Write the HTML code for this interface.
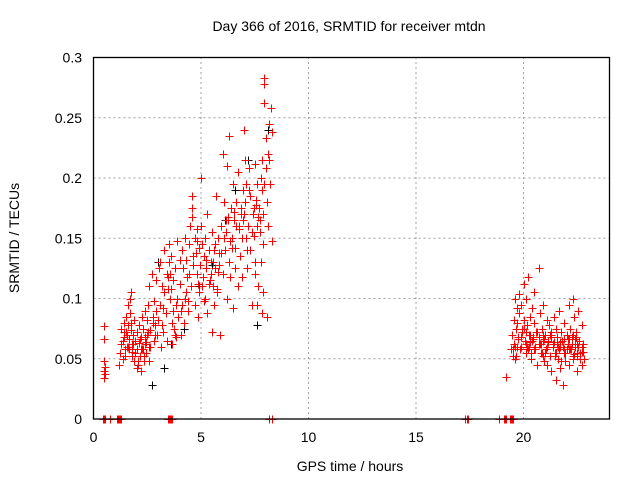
<!DOCTYPE html>
<html><head><meta charset="utf-8"><style>
body{margin:0;background:#fff;}
svg{display:block;font-family:"Liberation Sans",sans-serif;}
</style></head><body>
<svg id="chart" width="640" height="480" viewBox="0 0 640 480">
<text x="349" y="31" font-size="14" text-anchor="middle">Day 366 of 2016, SRMTID for receiver mtdn</text>
<text x="350" y="471" font-size="14" text-anchor="middle">GPS time / hours</text>
<text transform="translate(19,238) rotate(-90)" font-size="14" text-anchor="middle">SRMTID / TECUs</text>
<g id="grid"></g><g id="ticks"></g><g id="marks"></g>
<rect x="93.5" y="57.5" width="516" height="361.5" fill="none" stroke="#000" stroke-width="1.3"/>
</svg>
<script>
const xTicks=[0,5,10,15,20];
const yTicks=[0,0.05,0.1,0.15,0.2,0.25,0.3];
const yTickLabels=["0","0.05","0.1","0.15","0.2","0.25","0.3"];
const redHours=[0.5,0.5,0.5,0.55,0.5,0.55,0.5,
1.2,1.25,1.3,1.3,1.35,1.4,1.4,1.45,1.5,1.5,1.55,1.6,1.6,1.65,1.7,1.7,1.75,1.75,1.8,1.8,1.85,1.9,1.9,1.95,2.0,2.0,2.05,2.1,2.1,2.15,2.2,2.2,2.25,2.3,2.3,2.35,2.4,2.4,2.45,2.5,2.5,2.55,2.6,2.6,2.65,2.7,2.75,2.8,2.8,2.85,2.9,2.9,2.95,
3.0,3.05,3.1,3.1,3.15,3.2,3.25,3.3,3.3,3.35,3.4,3.45,3.5,3.5,3.55,3.55,3.6,3.6,3.65,3.7,3.7,3.75,3.8,3.85,3.9,3.9,3.95,
4.0,4.05,4.1,4.1,4.15,4.2,4.25,4.3,4.3,4.35,4.4,4.45,4.5,4.55,4.6,4.6,4.6,4.65,4.7,4.7,4.75,4.8,4.8,4.85,4.9,4.9,4.95,
5.0,5.0,5.05,5.1,5.15,5.2,5.2,5.25,5.3,5.3,5.35,5.4,5.45,5.5,5.5,5.55,5.6,5.6,5.65,5.7,5.75,5.8,5.8,5.85,5.9,5.95,
6.0,6.0,6.05,6.1,6.15,6.2,6.2,6.25,6.3,6.3,6.35,6.4,6.45,6.5,6.5,6.55,6.6,6.6,6.65,6.7,6.7,6.75,6.8,6.85,6.9,6.9,6.95,
7.0,7.0,7.05,7.1,7.1,7.15,7.2,7.25,7.3,7.3,7.35,7.4,7.45,7.5,7.5,7.55,7.6,7.6,7.65,7.7,7.75,7.8,7.8,7.85,7.9,7.9,7.95,7.95,
8.0,8.0,8.05,8.1,8.1,8.15,8.2,8.25,8.3,8.3,7.5,7.6,7.85,7.9,7.95,8.05,
19.2,19.4,19.45,19.5,19.55,19.6,19.6,19.65,19.7,19.75,19.8,19.8,19.85,19.9,19.95,20.0,20.0,20.05,20.1,20.1,20.15,20.2,20.25,20.3,20.3,20.35,20.4,20.45,20.5,20.5,20.55,20.6,20.65,20.7,20.7,20.75,20.8,20.85,20.9,20.9,20.95,
21.0,21.05,21.1,21.1,21.15,21.2,21.25,21.3,21.3,21.35,21.4,21.45,21.5,21.5,21.55,21.6,21.65,21.7,21.7,21.75,21.8,21.85,21.9,21.9,21.95,
22.0,22.05,22.1,22.1,22.15,22.2,22.25,22.3,22.3,22.35,22.4,22.45,22.5,22.5,22.55,22.6,22.65,22.7,22.7,22.75,22.8,
19.7,19.9,20.0,20.2,20.4,20.6,20.8,21.0,21.3,21.6,21.9,22.1,22.3,22.5,22.7,19.6,20.1,20.9,21.4,22.0,22.4,
1.35,1.45,1.55,1.65,1.75,1.85,1.95,2.05,2.15,2.25,2.35,2.45,2.55,2.65,2.75,2.85,1.4,1.6,1.8,2.0,2.2,2.4,2.6,
3.25,3.45,3.65,3.85,4.05,4.25,4.45,4.65,4.85,3.2,3.4,3.8,4.0,4.4,4.8,
5.05,5.25,5.45,5.65,5.85,6.05,6.25,6.45,6.65,6.85,5.15,5.35,5.55,5.75,5.95,6.15,6.35,6.55,6.75,6.95,
7.05,7.25,7.45,7.65,7.85,7.15,7.35,7.55,7.75,7.95,8.15,
19.55,19.65,19.75,19.85,19.95,20.05,20.15,20.25,20.35,20.45,20.55,20.65,20.75,20.85,20.95,21.05,21.15,21.25,21.35,21.45,21.55,21.65,21.75,21.85,21.95,22.05,22.15,22.25,22.35,22.45,22.55,22.65,22.75,
19.5,19.7,19.9,20.1,20.3,20.5,20.7,20.9,21.1,21.3,21.5,21.7,21.9,22.1,22.3,22.5,22.7];
const redValues=[0.077,0.066,0.048,0.043,0.040,0.037,0.034,
0.045,0.055,0.062,0.075,0.050,0.068,0.080,0.058,0.072,0.085,0.060,0.078,0.095,0.066,0.100,0.088,0.074,0.105,0.062,0.056,0.070,0.048,0.082,0.065,0.058,0.072,0.045,0.063,0.078,0.052,0.040,0.068,0.085,0.058,0.075,0.048,0.062,0.090,0.055,0.070,0.082,0.095,0.060,0.110,0.074,0.120,0.085,0.065,0.098,0.078,0.090,0.115,0.070,
0.082,0.125,0.095,0.130,0.060,0.110,0.072,0.105,0.140,0.088,0.065,0.118,0.145,0.130,0.100,0.120,0.135,0.108,0.062,0.090,0.115,0.075,0.125,0.068,0.100,0.148,0.085,
0.112,0.070,0.140,0.095,0.125,0.080,0.150,0.105,0.132,0.118,0.090,0.145,0.160,0.110,0.175,0.185,0.168,0.128,0.150,0.095,0.138,0.120,0.158,0.085,0.142,0.105,0.128,
0.200,0.160,0.145,0.118,0.135,0.100,0.150,0.125,0.170,0.088,0.140,0.115,0.130,0.072,0.155,0.110,0.095,0.140,0.125,0.185,0.105,0.150,0.122,0.138,0.070,0.160,
0.220,0.120,0.180,0.140,0.155,0.100,0.210,0.165,0.130,0.235,0.118,0.175,0.150,0.092,0.195,0.165,0.142,0.125,0.180,0.110,0.205,0.160,0.135,0.170,0.150,0.118,0.190,
0.240,0.170,0.215,0.150,0.195,0.125,0.160,0.208,0.140,0.185,0.095,0.170,0.152,0.212,0.130,0.178,0.195,0.160,0.110,0.175,0.155,0.200,0.130,0.215,0.170,0.145,0.262,0.283,
0.208,0.233,0.180,0.220,0.160,0.245,0.195,0.258,0.238,0.148,0.120,0.095,0.088,0.105,0.278,0.085,
0.035,0.058,0.070,0.052,0.082,0.060,0.100,0.075,0.092,0.066,0.088,0.104,0.058,0.095,0.075,0.082,0.112,0.065,0.100,0.055,0.078,0.118,0.060,0.085,0.070,0.050,0.092,0.066,0.080,0.105,0.058,0.072,0.045,0.125,0.062,0.088,0.055,0.075,0.065,0.095,0.048,
0.070,0.058,0.082,0.045,0.065,0.078,0.052,0.070,0.040,0.062,0.085,0.055,0.075,0.032,0.068,0.050,0.090,0.060,0.042,0.072,0.065,0.028,0.055,0.080,0.048,
0.070,0.062,0.095,0.045,0.075,0.058,0.068,0.100,0.050,0.085,0.060,0.072,0.052,0.040,0.090,0.065,0.055,0.078,0.045,0.062,0.050,
0.060,0.068,0.075,0.058,0.065,0.072,0.062,0.055,0.068,0.060,0.066,0.058,0.070,0.055,0.060,0.050,0.062,0.070,0.064,0.058,0.066,
0.065,0.052,0.070,0.058,0.080,0.062,0.055,0.048,0.066,0.058,0.052,0.064,0.072,0.060,0.080,0.070,0.072,0.060,0.052,0.042,0.058,0.068,0.048,
0.092,0.108,0.080,0.095,0.090,0.100,0.120,0.135,0.112,0.078,0.120,0.070,0.132,0.098,0.148,
0.110,0.132,0.120,0.145,0.128,0.150,0.168,0.142,0.160,0.175,0.098,0.112,0.130,0.108,0.138,0.165,0.148,0.172,0.158,0.165,
0.180,0.190,0.175,0.168,0.190,0.140,0.155,0.182,0.165,0.195,0.215,
0.062,0.052,0.068,0.058,0.072,0.065,0.060,0.070,0.055,0.068,0.060,0.072,0.062,0.055,0.066,0.058,0.064,0.070,0.060,0.052,0.062,0.058,0.048,0.060,0.055,0.066,0.058,0.062,0.054,0.068,0.060,0.050,0.056,
0.058,0.080,0.060,0.072,0.064,0.058,0.068,0.052,0.060,0.072,0.055,0.064,0.058,0.066,0.052,0.062,0.056];
const blackHours=[2.7,3.3,3.6,4.2,4.9,5.5,6.1,6.6,7.2,7.6,7.8,8.1,3.0];
const blackValues=[0.028,0.042,0.062,0.075,0.110,0.128,0.165,0.190,0.215,0.078,0.130,0.240,0.130];
const zeroHours=[0.45,0.5,0.55,0.75,1.1,1.15,1.2,1.25,1.3,3.45,3.5,3.55,3.6,3.65,8.15,8.3,17.3,17.35,17.4,18.85,19.1,19.15,19.2,19.35,19.4,19.45,19.5];

const X0=93.5,XW=516,Y0=419,YH=361.5;
const sx=h=>X0+h/24*XW, sy=v=>Y0-v/0.3*YH;
const NS="http://www.w3.org/2000/svg";
const grid=document.getElementById('grid'),ticks=document.getElementById('ticks'),marks=document.getElementById('marks');
function mk(tag,attrs,parent){const e=document.createElementNS(NS,tag);for(const k in attrs)e.setAttribute(k,attrs[k]);parent.appendChild(e);return e;}
xTicks.forEach(t=>{const x=sx(t);
 if(t>0){const g=mk('line',{x1:x,x2:x,y1:Y0,y2:57.5,stroke:'#a0a0a0','stroke-dasharray':'2,3'},grid);
 
 }
 const tl=mk('text',{x:x,y:442,'font-size':14,'text-anchor':'middle'},ticks);tl.textContent=t;
 
 
});
yTicks.forEach((t,i)=>{const y=sy(t);
 if(t>0&&t<0.3){const g=mk('line',{x1:X0,x2:X0+XW,y1:y,y2:y,stroke:'#a0a0a0','stroke-dasharray':'2,3'},grid);
 
 }
 const tl=mk('text',{x:82,y:y+5,'font-size':14,'text-anchor':'end'},ticks);tl.textContent=yTickLabels[i];
 
 
});
function plus(h,v,color,name){const x=Math.round(sx(h))+0.5,y=Math.round(sy(v))+0.5;
 const p=mk('path',{d:`M${x-4},${y}H${x+4}M${x},${y-4}V${y+4}`,stroke:color,'stroke-width':1,fill:'none'},marks);
 
 }
blackHours.forEach((h,i)=>plus(h,blackValues[i],'#000','point-black'));
redHours.forEach((h,i)=>plus(h,redValues[i],'#f00','point-red'));
zeroHours.forEach(h=>plus(h,0,'#f00','point-zero'));
</script>
</body></html>
